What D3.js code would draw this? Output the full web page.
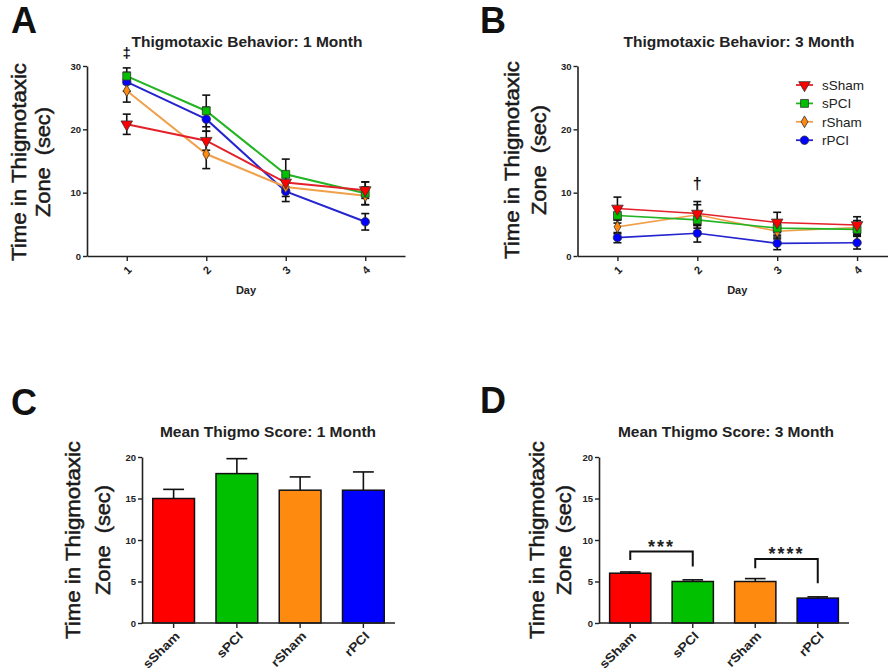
<!DOCTYPE html>
<html>
<head>
<meta charset="utf-8">
<script src="https://cdn.jsdelivr.net/npm/d3@7"></script>
<style>
  body { margin: 0; background: #fff; }
  svg { font-family: "Liberation Sans", Arial, sans-serif; }
</style>
</head>
<body>
<svg id="fig" width="888" height="670"></svg>
<script>
// groups
var groups = ["sSham", "sPCI", "rSham", "rPCI"];
var days = [1, 2, 3, 4];
var lineColors = ["#e4202a", "#22b422", "#f0a04b", "#2424d0"];
var fillColors = ["#ff0000", "#00c000", "#ff8a10", "#0000ff"];

// A: 1 month, mean per day and SEM
var month1Means = [
    [20.8, 18.2, 11.6, 10.4],
    [28.4, 22.9, 12.9, 9.9],
    [26.1, 16.1, 10.9, 9.5],
    [27.5, 21.6, 10.2, 5.4]
];
var month1Sem = [
    [1.6, 1.5, 1.2, 1.3],
    [1.3, 2.5, 2.4, 1.8],
    [1.8, 2.3, 1.5, 1.4],
    [1.5, 1.9, 1.6, 1.3]
];

// B: 3 month
var month3Means = [
    [7.5, 6.7, 5.3, 4.9],
    [6.4, 5.7, 4.4, 4.2],
    [4.6, 6.5, 3.9, 4.5],
    [2.9, 3.6, 2.0, 2.1]
];
var month3Sem = [
    [1.8, 1.9, 1.6, 1.3],
    [1.2, 1.3, 1.1, 1.0],
    [1.1, 1.6, 1.2, 1.1],
    [0.8, 1.4, 1.0, 1.0]
];

// C, D: mean scores
var score1Means = [15, 18, 16, 16];
var score1Sem = [1.1, 1.8, 1.6, 2.2];
var score3Means = [6.0, 5.0, 5.0, 3.0];
var score3Sem = [0.15, 0.2, 0.35, 0.15];

// D significance brackets: [from, to], label, top, left leg end, right leg end
var bracketPairs = [[0, 1], [2, 3]];
var bracketLabels = ["***", "****"];
var bracketTop = [8.6, 7.7];
var bracketLeftEnd = [7.6, 6.6];
var bracketRightEnd = [6.8, 4.8];

var lineTicks = [0, 10, 20, 30];
var barTicks = [0, 5, 10, 15, 20];

var svg = d3.select("#fig");
var axisColor = "#222";

function panelLetter(txt, x, y) {
    svg.append("text")
        .attr("x", x).attr("y", y)
        .attr("font-size", 36).attr("font-weight", "bold")
        .attr("fill", "#111")
        .text(txt);
}

function title(txt, x, y) {
    svg.append("text")
        .attr("x", x).attr("y", y)
        .attr("text-anchor", "middle")
        .attr("font-size", 15.5).attr("font-weight", "bold")
        .attr("fill", "#222")
        .text(txt);
}

// two line rotated y label, stretched a bit like the source
function yLabel(axisX, cy, off1, off2) {
    var g = svg.append("g").attr("font-size", 20).attr("fill", "#1a1a1a")
        .attr("stroke", "#1a1a1a").attr("stroke-width", 0.5);
    g.append("text")
        .attr("transform", "translate(" + (axisX + off1) + "," + cy + ") rotate(-90)")
        .attr("text-anchor", "middle")
        .attr("textLength", 198).attr("lengthAdjust", "spacingAndGlyphs")
        .text("Time in Thigmotaxic");
    g.append("text")
        .attr("transform", "translate(" + (axisX + off2) + "," + cy + ") rotate(-90)")
        .attr("text-anchor", "middle")
        .style("white-space", "pre")
        .attr("textLength", 110).attr("lengthAdjust", "spacingAndGlyphs")
        .text("Zone  (sec)");
}

function styleAxis(g) {
    g.select(".domain").attr("stroke", axisColor).attr("stroke-width", 1.6);
    g.selectAll(".tick line").attr("stroke", axisColor).attr("stroke-width", 1.4);
    g.selectAll(".tick text").attr("fill", "#222").attr("font-weight", "bold")
        .attr("font-size", 9.5).attr("font-family", "Liberation Sans, Arial, sans-serif");
}

var symbols = [
    d3.symbol().type(d3.symbolTriangle).size(58),
    d3.symbol().type(d3.symbolSquare).size(62),
    d3.symbol().type(d3.symbolDiamond).size(40),
    d3.symbol().type(d3.symbolCircle).size(56)
];
var symRotate = [180, 0, 0, 0];

function linePanel(o) {
    var x = d3.scaleLinear().domain([0.5, 4.5]).range([o.left, o.right]);
    var y = d3.scaleLinear().domain([0, 30]).range([o.bottom, o.top]);

    var ya = svg.append("g").attr("transform", "translate(" + o.left + ",0)")
        .call(d3.axisLeft(y).tickValues(lineTicks).tickSize(4).tickPadding(2).tickSizeOuter(0));
    styleAxis(ya);
    var xa = svg.append("g").attr("transform", "translate(0," + o.bottom + ")")
        .call(d3.axisBottom(x).tickValues(days).tickSize(5).tickSizeOuter(0).tickFormat(d3.format("d")));
    styleAxis(xa);
    xa.selectAll(".tick text")
        .attr("text-anchor", "middle").attr("dy", null).attr("y", null)
        .attr("transform", "translate(0,14) rotate(-45)")
        .attr("dominant-baseline", "central").attr("font-size", 11);

    svg.append("text").attr("x", (x(1) + x(4)) / 2).attr("y", o.bottom + 38)
        .attr("text-anchor", "middle").attr("font-size", 11).attr("font-weight", "bold")
        .attr("fill", "#222").text("Day");

    var line = d3.line().x(function (d, i) { return x(days[i]); }).y(function (d) { return y(d); });
    var order = [3, 2, 1, 0];

    order.forEach(function (s) {
        svg.append("path").datum(o.means[s])
            .attr("d", line).attr("fill", "none")
            .attr("stroke", lineColors[s]).attr("stroke-width", o.lw);
    });
    order.forEach(function (s) {
        var eb = svg.append("g").attr("stroke", "#111").attr("stroke-width", 1.6);
        o.means[s].forEach(function (m, i) {
            var cx = x(days[i]), e = o.sem[s][i];
            eb.append("line").attr("x1", cx).attr("x2", cx).attr("y1", y(m - e)).attr("y2", y(m + e));
            eb.append("line").attr("x1", cx - 4).attr("x2", cx + 4).attr("y1", y(m - e)).attr("y2", y(m - e));
            eb.append("line").attr("x1", cx - 4).attr("x2", cx + 4).attr("y1", y(m + e)).attr("y2", y(m + e));
        });
    });
    order.forEach(function (s) {
        svg.append("g").selectAll("path").data(o.means[s]).enter().append("path")
            .attr("d", symbols[s])
            .attr("transform", function (d, i) {
                return "translate(" + x(days[i]) + "," + y(d) + ") rotate(" + symRotate[s] + ")";
            })
            .attr("fill", fillColors[s]).attr("stroke", "#333").attr("stroke-width", 0.8);
    });

    if (o.mark) {
        svg.append("text").attr("x", x(o.mark.day)).attr("y", y(o.mark.v))
            .attr("text-anchor", "middle").attr("font-size", o.mark.size).attr("font-weight", "bold")
            .attr("fill", "#111").text(o.mark.txt);
    }
    return {x: x, y: y};
}

function stretchText(sel, f) {
    sel.each(function () {
        var len = this.getComputedTextLength();
        d3.select(this).attr("textLength", len * f).attr("lengthAdjust", "spacingAndGlyphs");
    });
}

function barPanel(o) {
    var x = d3.scaleBand().domain(groups).range([o.left, o.right]).paddingInner(0.34).paddingOuter(0.17);
    var y = d3.scaleLinear().domain([0, 20]).range([o.bottom, o.top]);

    var ya = svg.append("g").attr("transform", "translate(" + o.left + ",0)")
        .call(d3.axisLeft(y).tickValues(barTicks).tickSize(4).tickPadding(2).tickSizeOuter(0));
    styleAxis(ya);

    var bw = x.bandwidth();
    // error bars (upper only)
    var eb = svg.append("g").attr("stroke", "#111").attr("stroke-width", 1.6);
    o.means.forEach(function (m, i) {
        var cx = x(groups[i]) + bw / 2;
        eb.append("line").attr("x1", cx).attr("x2", cx).attr("y1", y(m)).attr("y2", y(m + o.sem[i]));
        eb.append("line").attr("x1", cx - bw / 4).attr("x2", cx + bw / 4)
            .attr("y1", y(m + o.sem[i])).attr("y2", y(m + o.sem[i]));
    });
    svg.append("g").selectAll("rect").data(o.means).enter().append("rect")
        .attr("x", function (d, i) { return x(groups[i]); })
        .attr("y", function (d) { return y(d); })
        .attr("width", bw)
        .attr("height", function (d) { return y(0) - y(d); })
        .attr("fill", function (d, i) { return fillColors[i]; })
        .attr("stroke", "#111").attr("stroke-width", 1.5);

    var xa = svg.append("g").attr("transform", "translate(0," + o.bottom + ")")
        .call(d3.axisBottom(x).tickSize(5).tickSizeOuter(0));
    styleAxis(xa);
    xa.select(".domain").attr("d", "M" + o.left + ",0H" + o.axisEnd);
    var lbl = xa.selectAll(".tick text")
        .attr("text-anchor", "end").attr("dy", null).attr("y", null)
        .attr("transform", "translate(4,11) rotate(-45)")
        .attr("dominant-baseline", "central").attr("font-size", 12.5);
    stretchText(lbl, 1.12);
    return {x: x, y: y};
}

// A
panelLetter("A", 11, 33);
title("Thigmotaxic Behavior: 1 Month", 247, 47);
yLabel(87, 162, -61, -37);
linePanel({left: 87, right: 405, top: 66, bottom: 256, lw: 2,
    means: month1Means, sem: month1Sem,
    mark: {txt: "\u2021", day: 1, v: 31.3, size: 15}});

// B
panelLetter("B", 480, 33);
title("Thigmotaxic Behavior: 3 Month", 739, 47);
yLabel(577, 160, -58, -31);
linePanel({left: 577.5, right: 897, top: 66, bottom: 256, lw: 1.6,
    means: month3Means, sem: month3Sem,
    mark: {txt: "\u2020", day: 2, v: 10.6, size: 16}});

// legend
var leg = svg.append("g").attr("transform", "translate(796,85)");
groups.forEach(function (g, i) {
    var row = leg.append("g").attr("transform", "translate(0," + (i * 18.4) + ")");
    row.append("line").attr("x1", 0).attr("x2", 17).attr("stroke", lineColors[i]).attr("stroke-width", 1.8);
    row.append("path").attr("d", symbols[i])
        .attr("transform", "translate(8.5,0) rotate(" + symRotate[i] + ")")
        .attr("fill", fillColors[i]).attr("stroke", "#333").attr("stroke-width", 0.8);
    row.append("text").attr("x", 26).attr("y", 0).attr("dy", "0.35em")
        .attr("font-size", 13.5).attr("fill", "#222").text(g);
});

// C
panelLetter("C", 11, 415);
title("Mean Thigmo Score: 1 Month", 268, 437);
yLabel(142, 540, -62, -32);
barPanel({left: 142, right: 395, axisEnd: 395, top: 457, bottom: 623,
    means: score1Means, sem: score1Sem});

// D
panelLetter("D", 480, 413);
title("Mean Thigmo Score: 3 Month", 726, 437);
yLabel(599, 540, -55, -28);
var d = barPanel({left: 599, right: 849, axisEnd: 849, top: 457, bottom: 623,
    means: score3Means, sem: score3Sem});

var bw = d.x.bandwidth();
bracketPairs.forEach(function (p, i) {
    var x1 = d.x(groups[p[0]]) + bw / 2, x2 = d.x(groups[p[1]]) + bw / 2;
    svg.append("path")
        .attr("d", "M" + x1 + "," + d.y(bracketLeftEnd[i]) + "V" + d.y(bracketTop[i]) +
            "H" + x2 + "V" + d.y(bracketRightEnd[i]))
        .attr("fill", "none").attr("stroke", "#111").attr("stroke-width", 2);
    svg.append("text").attr("x", (x1 + x2) / 2).attr("y", d.y(bracketTop[i]) + 1)
        .attr("text-anchor", "middle").attr("font-size", 18).attr("font-weight", "bold")
        .attr("letter-spacing", 2)
        .attr("fill", "#222").text(bracketLabels[i]);
});
</script>
</body>
</html>
